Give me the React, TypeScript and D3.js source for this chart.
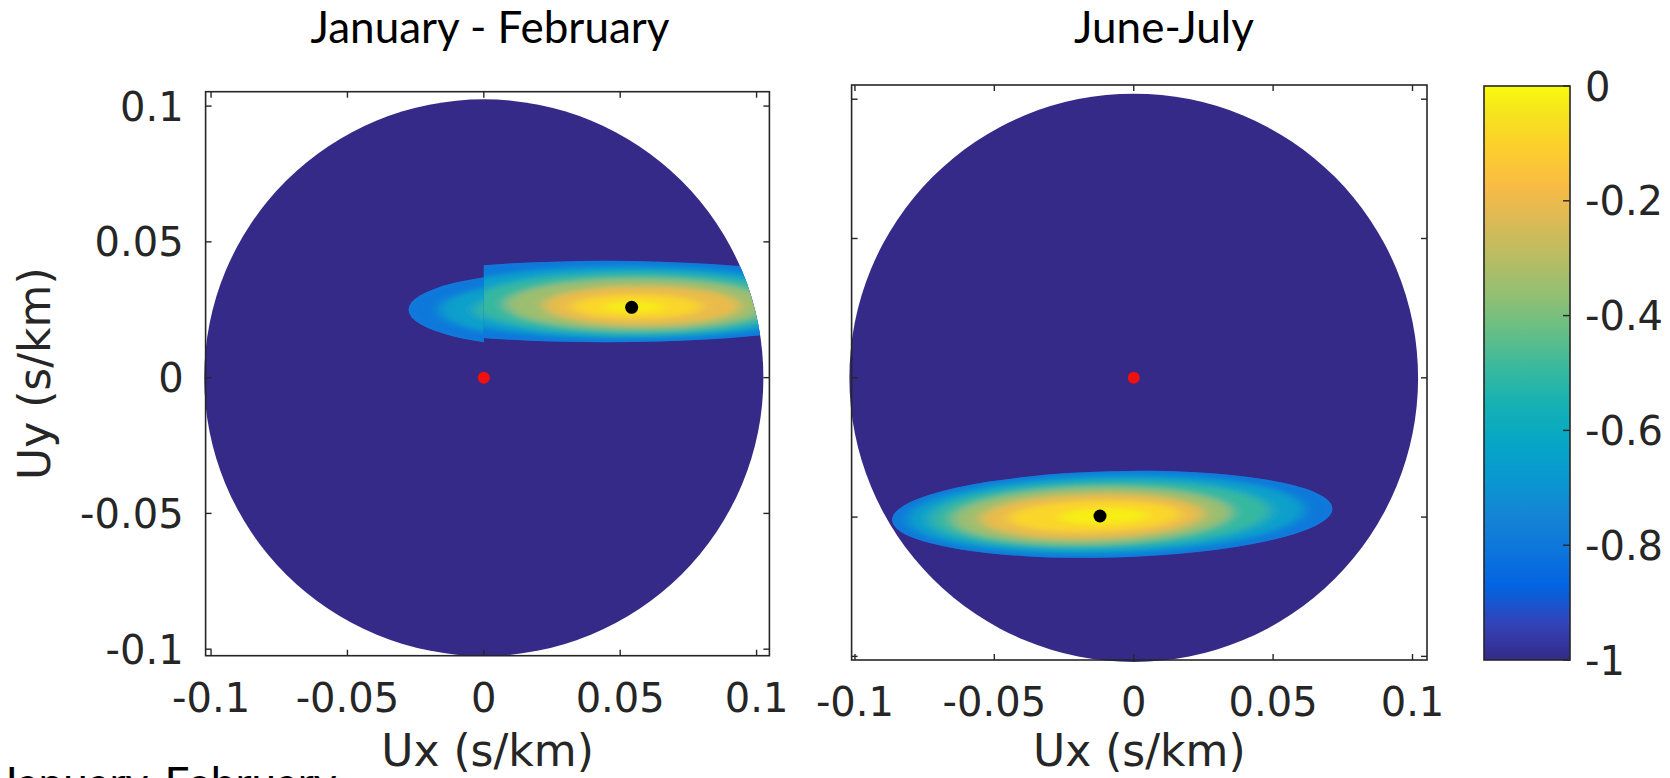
import React from 'react';
import * as d3 from 'd3';

// ---------- text / ticks ----------
const TITLES = ['January - February', 'June-July'];
const FOOTNOTE = 'January-February';
const X_LABEL = 'Ux (s/km)';
const Y_LABEL = 'Uy (s/km)';
const AXIS_TICKS = [-0.1, -0.05, 0, 0.05, 0.1];
const AXIS_TICK_LABELS = ['-0.1', '-0.05', '0', '0.05', '0.1'];
const CBAR_TICKS = [0, -0.2, -0.4, -0.6, -0.8, -1];
const CBAR_TICK_LABELS = ['0', '-0.2', '-0.4', '-0.6', '-0.8', '-1'];

// ---------- data ----------
const DISK_RADIUS = [0.1025, 0.102];
const ORIGIN_POINT = [[0, 0], [0, 0]];
const PEAK_POINT = [[0.0542, 0.0259], [-0.0121, -0.0496]];

// contour levels of the normalised beam power
const LEVELS = [-0.85, -0.7, -0.55, -0.4, -0.25, -0.12, -0.04];

// January-February, Ux >= 0 lobe (one ellipse per level)
const JF_EAST_CX = [0.045, 0.0525, 0.055, 0.0565, 0.058, 0.056, 0.055];
const JF_EAST_CY = [0.028, 0.0277, 0.0273, 0.027, 0.0265, 0.0262, 0.026];
const JF_EAST_RX = [0.1, 0.0725, 0.06, 0.0485, 0.036, 0.024, 0.011];
const JF_EAST_RY = [0.015, 0.0133, 0.0115, 0.0095, 0.0072, 0.0045, 0.002];
// January-February, Ux < 0 lobe
const JF_WEST_CX = [0.03, 0.03, 0.03];
const JF_WEST_CY = [0.025, 0.025, 0.025];
const JF_WEST_RX = [0.0576, 0.046, 0.033];
const JF_WEST_RY = [0.014, 0.0105, 0.0072];
// June-July lobe
const JJ_CX = [-0.0077, -0.01, -0.012, -0.015, -0.015, -0.014, -0.011];
const JJ_CY = [-0.049, -0.049, -0.0492, -0.0495, -0.0497, -0.0497, -0.0497];
const JJ_RX = [0.079, 0.071, 0.061, 0.05, 0.04, 0.031, 0.016];
const JJ_RY = [0.0155, 0.014, 0.012, 0.0102, 0.008, 0.0056, 0.0028];
const JJ_TILT_DEG = 1.5;

// parula colormap samples (position 0..1)
const PARULA_POS = [0, 4, 8, 12, 16, 20, 24, 28, 32, 36, 40, 44, 48, 52, 56, 60, 63].map((i) => i / 63);
const PARULA_RGB = [
  [0.2081, 0.1663, 0.5292], [0.1959, 0.2645, 0.7279], [0.0117, 0.3875, 0.882],
  [0.0498, 0.4586, 0.8641], [0.0793, 0.52, 0.8312], [0.0343, 0.5966, 0.8199],
  [0.0228, 0.6535, 0.7768], [0.0843, 0.6928, 0.7062], [0.2178, 0.725, 0.6193],
  [0.3953, 0.7459, 0.5244], [0.5709, 0.7485, 0.4494], [0.7184, 0.7411, 0.3905],
  [0.8507, 0.7299, 0.336], [0.9739, 0.7314, 0.2666], [0.988, 0.8066, 0.1794],
  [0.9589, 0.8949, 0.1132], [0.9763, 0.9831, 0.0538],
];

// ---------- layout ----------
const W = 1670;
const H = 778;
const PANELS = [
  { x0: 205.6, x1: 769.4, y0: 91.7, y1: 655.7, xd: [-0.102, 0.1047], yd: [-0.1024, 0.1053], yLabels: true },
  { x0: 851.6, x1: 1427, y0: 85, y1: 660, xd: [-0.1012, 0.1052], yd: [-0.1013, 0.1051], yLabels: false },
];
const CBAR = { x0: 1484, x1: 1570, y0: 86, y1: 660 };
const AXIS_COLOR = '#262626';
const AXIS_FONT = "'DejaVu Sans', sans-serif";
const TITLE_FONT = "Lato, 'Open Sans', sans-serif";

const rgbStr = (c: number[]) => d3.rgb(c[0] * 255, c[1] * 255, c[2] * 255).formatHex();
const colorScale = d3
  .scaleLinear<string>()
  .domain(PARULA_POS.map((p) => -1 + p))
  .range(PARULA_RGB.map(rgbStr))
  .interpolate(d3.interpolateRgb)
  .clamp(true);

function bandColor(i: number, levels: number[]) {
  const lo = levels[i];
  const hi = i + 1 < levels.length ? levels[i + 1] : 0;
  return colorScale(lo + 0.35 * (hi - lo));
}

type Lobe = { cx: number[]; cy: number[]; rx: number[]; ry: number[]; tilt: number; clip?: 'east' | 'west' };

function LobeView({ id, lobe, xs, ys, panel }: any) {
  const l: Lobe = lobe;
  const n = l.cx.length;
  const els = d3.range(n).map((i) => {
    const cx = xs(l.cx[i]);
    const cy = ys(l.cy[i]);
    const rx = xs(l.cx[i] + l.rx[i]) - cx;
    const ry = ys(l.cy[i]) - ys(l.cy[i] + l.ry[i]);
    return { cx, cy, rx, ry, fill: bandColor(i, LEVELS) };
  });
  const o = els[0];
  const tr = (e: any) => `rotate(${-l.tilt},${e.cx},${e.cy})`;
  const halfClip = l.clip ? `${id}-half` : null;
  const x0 = xs(0);
  return (
    <g>
      <defs>
        <clipPath id={`${id}-outer`}>
          <ellipse cx={o.cx} cy={o.cy} rx={o.rx} ry={o.ry} transform={tr(o)} />
        </clipPath>
        {halfClip && (
          <clipPath id={halfClip}>
            {l.clip === 'east' ? (
              <rect x={x0} y={panel.y0 - 10} width={panel.x1 - x0 + 20} height={panel.y1 - panel.y0 + 20} />
            ) : (
              <rect x={panel.x0 - 20} y={panel.y0 - 10} width={x0 - panel.x0 + 20} height={panel.y1 - panel.y0 + 20} />
            )}
          </clipPath>
        )}
      </defs>
      <g clipPath={halfClip ? `url(#${halfClip})` : undefined}>
        <ellipse cx={o.cx} cy={o.cy} rx={o.rx} ry={o.ry} transform={tr(o)} fill={o.fill} />
        <g clipPath={`url(#${id}-outer)`}>
          <g filter="url(#softBlur)">
            {els.map((e, i) => (
              <ellipse key={i} cx={e.cx} cy={e.cy} rx={e.rx} ry={e.ry} transform={tr(e)} fill={e.fill} />
            ))}
          </g>
        </g>
      </g>
    </g>
  );
}

function Panel({ idx }: { idx: number }) {
  const p = PANELS[idx];
  const xs = d3.scaleLinear().domain(p.xd).range([p.x0, p.x1]);
  const ys = d3.scaleLinear().domain(p.yd).range([p.y1, p.y0]);
  const r = DISK_RADIUS[idx];
  const dcx = xs(0);
  const dcy = ys(0);
  const drx = xs(r) - xs(0);
  const dry = ys(0) - ys(r);
  const lobes: Lobe[] =
    idx === 0
      ? [
          { cx: JF_WEST_CX, cy: JF_WEST_CY, rx: JF_WEST_RX, ry: JF_WEST_RY, tilt: 0, clip: 'west' },
          { cx: JF_EAST_CX, cy: JF_EAST_CY, rx: JF_EAST_RX, ry: JF_EAST_RY, tilt: 0, clip: 'east' },
        ]
      : [{ cx: JJ_CX, cy: JJ_CY, rx: JJ_RX, ry: JJ_RY, tilt: JJ_TILT_DEG }];
  const tl = 6;
  const op = ORIGIN_POINT[idx];
  const pk = PEAK_POINT[idx];
  return (
    <g>
      <defs>
        <clipPath id={`disk${idx}`}>
          <ellipse cx={dcx} cy={dcy} rx={drx} ry={dry} />
        </clipPath>
      </defs>
      <ellipse cx={dcx} cy={dcy} rx={drx} ry={dry} fill={colorScale(-1)} />
      <g clipPath={`url(#disk${idx})`}>
        {lobes.map((lb, i) => (
          <LobeView key={i} id={`p${idx}l${i}`} lobe={lb} xs={xs} ys={ys} panel={p} />
        ))}
      </g>
      <circle cx={xs(op[0])} cy={ys(op[1])} r={6} fill="#f01010" />
      <circle cx={xs(pk[0])} cy={ys(pk[1])} r={6.5} fill="#000" />
      {/* box */}
      <rect x={p.x0} y={p.y0} width={p.x1 - p.x0} height={p.y1 - p.y0} fill="none" stroke={AXIS_COLOR} strokeWidth={1.6} />
      {AXIS_TICKS.map((t, i) => (
        <g key={'xt' + i}>
          <line x1={xs(t)} x2={xs(t)} y1={p.y1} y2={p.y1 - tl} stroke={AXIS_COLOR} strokeWidth={1.4} />
          <line x1={xs(t)} x2={xs(t)} y1={p.y0} y2={p.y0 + tl} stroke={AXIS_COLOR} strokeWidth={1.4} />
          <text x={xs(t)} y={p.y1 + 56} textAnchor="middle" fontFamily={AXIS_FONT} fontSize={40} fill={AXIS_COLOR}>
            {AXIS_TICK_LABELS[i]}
          </text>
        </g>
      ))}
      {AXIS_TICKS.map((t, i) => (
        <g key={'yt' + i}>
          <line x1={p.x0} x2={p.x0 + tl} y1={ys(t)} y2={ys(t)} stroke={AXIS_COLOR} strokeWidth={1.4} />
          <line x1={p.x1} x2={p.x1 - tl} y1={ys(t)} y2={ys(t)} stroke={AXIS_COLOR} strokeWidth={1.4} />
          {p.yLabels && (
            <text x={p.x0 - 22} y={ys(t) + 14.5} textAnchor="end" fontFamily={AXIS_FONT} fontSize={40} fill={AXIS_COLOR}>
              {AXIS_TICK_LABELS[i]}
            </text>
          )}
        </g>
      ))}
      <text x={(p.x0 + p.x1) / 2} y={766} textAnchor="middle" fontFamily={AXIS_FONT} fontSize={44} fill={AXIS_COLOR}>
        {X_LABEL}
      </text>
      {p.yLabels && (
        <text
          transform={`translate(50,${(p.y0 + p.y1) / 2}) rotate(-90)`}
          textAnchor="middle"
          fontFamily={AXIS_FONT}
          fontSize={44}
          fill={AXIS_COLOR}
        >
          {Y_LABEL}
        </text>
      )}
    </g>
  );
}

function ColorBar() {
  const cs = d3.scaleLinear().domain([-1, 0]).range([CBAR.y1, CBAR.y0]);
  return (
    <g>
      <defs>
        <linearGradient id="parulaGrad" x1="0" y1="1" x2="0" y2="0">
          {PARULA_POS.map((p, i) => (
            <stop key={i} offset={p} stopColor={rgbStr(PARULA_RGB[i])} />
          ))}
        </linearGradient>
      </defs>
      <rect x={CBAR.x0} y={CBAR.y0} width={CBAR.x1 - CBAR.x0} height={CBAR.y1 - CBAR.y0} fill="url(#parulaGrad)" stroke={AXIS_COLOR} strokeWidth={1.6} />
      {CBAR_TICKS.map((t, i) => (
        <g key={i}>
          <line x1={CBAR.x1} x2={CBAR.x1 - 7} y1={cs(t)} y2={cs(t)} stroke={AXIS_COLOR} strokeWidth={1.4} />
          <text x={1585} y={cs(t) + 14.5} fontFamily={AXIS_FONT} fontSize={40} fill={AXIS_COLOR}>
            {CBAR_TICK_LABELS[i]}
          </text>
        </g>
      ))}
    </g>
  );
}

export default function App() {
  return (
    <svg
      width={W}
      height={H}
      viewBox={`0 0 ${W} ${H}`}
      style={{ position: 'absolute', left: 0, top: 0, background: '#fff', display: 'block' }}
    >
      <defs>
        <filter id="softBlur" x="-30%" y="-100%" width="160%" height="300%">
          <feGaussianBlur stdDeviation="7 2.5" />
        </filter>
      </defs>
      <rect x={0} y={0} width={W} height={H} fill="#fff" />
      <text x={490} y={43} textAnchor="middle" fontFamily={TITLE_FONT} fontSize={44} fill="#000">
        {TITLES[0]}
      </text>
      <text x={1164} y={43} textAnchor="middle" fontFamily={TITLE_FONT} fontSize={44} fill="#000">
        {TITLES[1]}
      </text>
      <Panel idx={0} />
      <Panel idx={1} />
      <ColorBar />
      <text x={-1} y={799} fontFamily={TITLE_FONT} fontSize={44} fill="#000">
        {FOOTNOTE}
      </text>
    </svg>
  );
}
